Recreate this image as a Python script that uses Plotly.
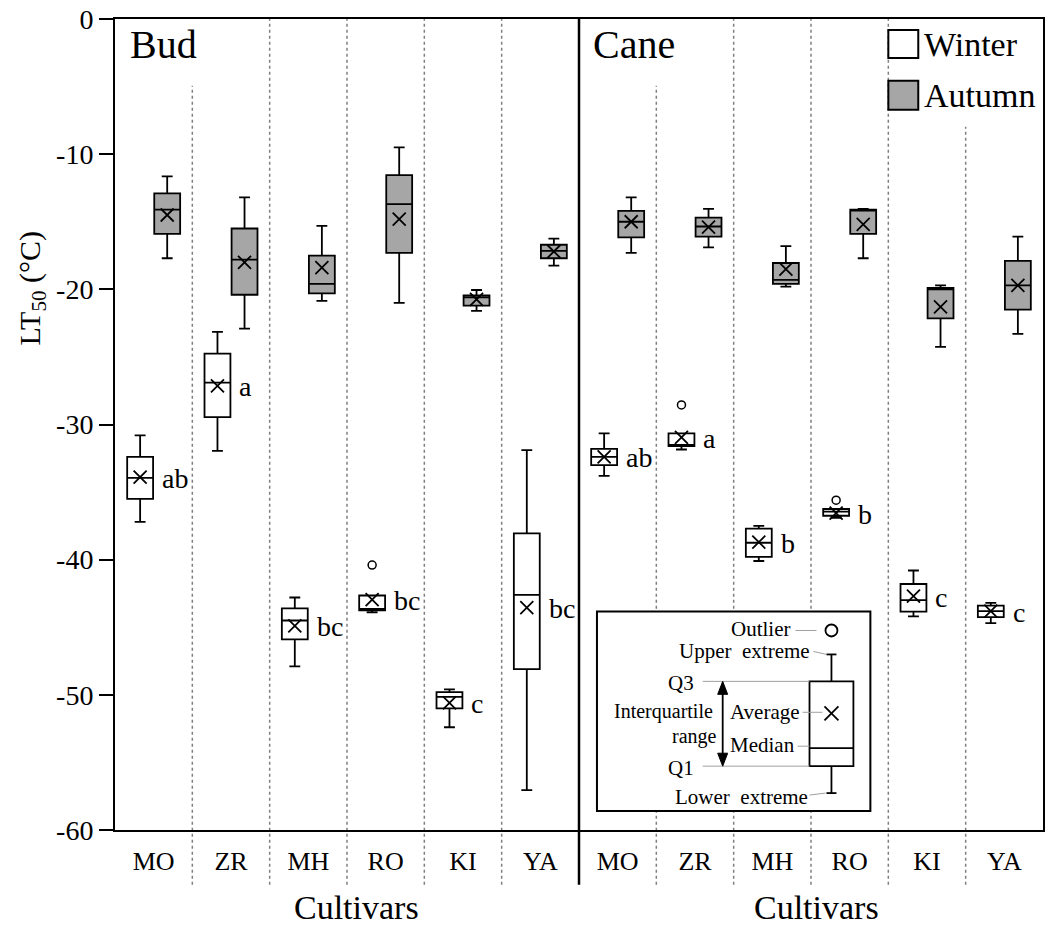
import numpy as np
import plotly.graph_objects as go

# ---------------- data ----------------
cultivars = ["MO", "ZR", "MH", "RO", "KI", "YA"]
tissues = ["Bud", "Cane"]
tick_labels = cultivars + cultivars   # Bud block then Cane block

winter_upper = [-30.8, -23.15, -42.8, -42.65, -49.6, -31.9, -30.65, -30.65, -37.5, -36.25, -40.8, -43.2]
winter_q3 = [-32.4, -24.75, -43.6, -42.65, -49.8, -38.05, -31.8, -30.65, -37.7, -36.25, -41.8, -43.4]
winter_median = [-33.95, -26.9, -44.5, -43.65, -50.15, -42.6, -32.4, -31.5, -38.75, -36.45, -43.0, -43.8]
winter_q1 = [-35.5, -29.45, -45.9, -43.75, -51.0, -48.1, -33.0, -31.6, -39.8, -36.75, -43.85, -44.25]
winter_lower = [-37.2, -31.95, -47.9, -43.9, -52.4, -57.05, -33.8, -31.85, -40.1, -36.9, -44.2, -44.7]
winter_mean = [-33.9, -27.15, -44.9, -42.95, -50.6, -43.55, -32.4, -30.95, -38.7, -36.55, -42.7, -43.8]
winter_letters = ["ab", "a", "bc", "bc", "c", "bc", "ab", "a", "b", "b", "c", "c"]
winter_outlier_idx = [3, 7, 9]
winter_outlier_val = [-40.4, -28.55, -35.6]

autumn_upper = [-11.65, -13.2, -15.3, -9.5, -20.05, -16.25, -13.2, -14.05, -16.8, -14.05, -19.7, -16.1]
autumn_q3 = [-12.9, -15.5, -17.5, -11.55, -20.45, -16.7, -14.2, -14.7, -18.05, -14.1, -19.9, -17.9]
autumn_median = [-14.1, -17.8, -19.6, -13.7, -20.6, -17.15, -15.0, -15.35, -19.3, -14.1, -20.0, -19.7]
autumn_q1 = [-15.9, -20.4, -20.3, -17.3, -21.2, -17.7, -16.15, -16.1, -19.6, -15.9, -22.15, -21.5]
autumn_lower = [-17.7, -22.9, -20.85, -21.0, -21.6, -18.25, -17.3, -16.9, -19.8, -17.7, -24.25, -23.3]
autumn_mean = [-14.5, -18.0, -18.4, -14.8, -20.75, -17.2, -15.0, -15.4, -18.5, -15.2, -21.3, -19.7]

y_ticks = [0, -10, -20, -30, -40, -50, -60]
y_ticktext = ["0", "-10", "-20", "-30", "-40", "-50", "-60"]

# ---------------- styling / layout helpers ----------------
FONT = "Liberation Serif"
W, H = 1049, 929
ML, MR, MT, MB = 115, 4, 17, 99
PW, PH = W - ML - MR, H - MT - MB
GRAY = "#a6a6a6"


def PX(px):
    return (px - ML) / PW


def PY(py):
    return (H - MB - py) / PH


n = len(tick_labels)
idx = np.arange(n)
off, bw = 0.175, 0.335
x_w = idx - off
x_a = idx + off

fig = go.Figure()

box_common = dict(width=bw, whiskerwidth=0.42, boxpoints=False, orientation="v",
                  line=dict(color="black", width=1.8), showlegend=False, hoverinfo="skip")

fig.add_trace(go.Box(x=x_w, q1=winter_q1, median=winter_median, q3=winter_q3,
                     lowerfence=winter_lower, upperfence=winter_upper,
                     fillcolor="white", name="Winter", **box_common))
fig.add_trace(go.Box(x=x_a, q1=autumn_q1, median=autumn_median, q3=autumn_q3,
                     lowerfence=autumn_lower, upperfence=autumn_upper,
                     fillcolor=GRAY, name="Autumn", **box_common))

mean_marker = dict(symbol="x-thin", size=13, color="black", line=dict(width=1.8, color="black"))
fig.add_trace(go.Scatter(x=x_w, y=winter_mean, mode="markers", marker=mean_marker,
                         showlegend=False, hoverinfo="skip"))
fig.add_trace(go.Scatter(x=x_a, y=autumn_mean, mode="markers", marker=mean_marker,
                         showlegend=False, hoverinfo="skip"))
fig.add_trace(go.Scatter(x=[x_w[i] for i in winter_outlier_idx], y=winter_outlier_val,
                         mode="markers",
                         marker=dict(symbol="circle-open", size=8, color="black",
                                     line=dict(width=1.5, color="black")),
                         showlegend=False, hoverinfo="skip"))

annotations = []
# significance letters next to winter boxes
for i in range(n):
    annotations.append(dict(x=idx[i] + 0.08, y=winter_mean[i], xref="x", yref="y",
                            text=winter_letters[i], showarrow=False, xanchor="left",
                            yanchor="middle", yshift=-1,
                            font=dict(family=FONT, size=28, color="black")))

shapes = []
# separators
bottom_ext = PY(885)
for k in range(n - 1):
    xs = k + 0.5
    if k == 5:
        shapes.append(dict(type="line", xref="x", yref="paper", x0=xs, x1=xs,
                           y0=bottom_ext, y1=1, line=dict(color="black", width=2.5)))
        continue
    top = 1
    if k in (0, 6):
        top = PY(84)
    elif k == 10:
        top = PY(125)
    shapes.append(dict(type="line", xref="x", yref="paper", x0=xs, x1=xs,
                       y0=bottom_ext, y1=top, layer="below",
                       line=dict(color="#7f7f7f", width=1.5, dash="dot")))

# panel titles
annotations.append(dict(x=PX(128), y=PY(43), xref="paper", yref="paper", text=tissues[0],
                        showarrow=False, xanchor="left", yanchor="middle",
                        font=dict(family=FONT, size=40, color="black")))
annotations.append(dict(x=PX(592), y=PY(43), xref="paper", yref="paper", text=tissues[1],
                        showarrow=False, xanchor="left", yanchor="middle",
                        font=dict(family=FONT, size=40, color="black")))

# x titles
for cx in (357, 818):
    annotations.append(dict(x=PX(cx), y=PY(908), xref="paper", yref="paper", text="Cultivars",
                            showarrow=False, xanchor="center", yanchor="middle",
                            font=dict(family=FONT, size=34, color="black")))

# y title
annotations.append(dict(x=PX(32), y=PY(287), xref="paper", yref="paper",
                        text="LT<sub>50</sub> (°C)", textangle=-90, showarrow=False,
                        xanchor="center", yanchor="middle",
                        font=dict(family=FONT, size=30, color="black")))

# legend (top right)
shapes.append(dict(type="rect", xref="paper", yref="paper", x0=PX(890), x1=PX(920),
                   y0=PY(56), y1=PY(28), fillcolor="white", line=dict(color="black", width=2)))
shapes.append(dict(type="rect", xref="paper", yref="paper", x0=PX(890), x1=PX(920),
                   y0=PY(108), y1=PY(79), fillcolor=GRAY, line=dict(color="black", width=2)))
annotations.append(dict(x=PX(924), y=PY(43), xref="paper", yref="paper", text="Winter",
                        showarrow=False, xanchor="left", yanchor="middle",
                        font=dict(family=FONT, size=34, color="black")))
annotations.append(dict(x=PX(924), y=PY(94), xref="paper", yref="paper", text="Autumn",
                        showarrow=False, xanchor="left", yanchor="middle",
                        font=dict(family=FONT, size=34, color="black")))

# ---------------- inset explanation box ----------------
shapes.append(dict(type="rect", xref="paper", yref="paper", x0=PX(598), x1=PX(872),
                   y0=PY(811), y1=PY(611), fillcolor="white", line=dict(color="black", width=2)))


def pline(x0, y0, x1, y1, color="black", width=1.8):
    shapes.append(dict(type="line", xref="paper", yref="paper", x0=PX(x0), y0=PY(y0),
                       x1=PX(x1), y1=PY(y1), line=dict(color=color, width=width)))


def ptri(ax, ay, bx1, by, bx2):
    path = "M {} {} L {} {} L {} {} Z".format(PX(ax), PY(ay), PX(bx1), PY(by), PX(bx2), PY(by))
    shapes.append(dict(type="path", xref="paper", yref="paper", path=path,
                       fillcolor="black", line=dict(color="black", width=1)))


# mini box
shapes.append(dict(type="rect", xref="paper", yref="paper", x0=PX(811), x1=PX(855),
                   y0=PY(766), y1=PY(681), fillcolor="white", line=dict(color="black", width=1.8)))
pline(811, 748, 855, 748)
pline(833, 654, 833, 681)
pline(828, 654, 838, 654)
pline(833, 766, 833, 793)
pline(828, 793, 838, 793)
pline(826, 706, 840, 720)
pline(826, 720, 840, 706)
shapes.append(dict(type="circle", xref="paper", yref="paper", x0=PX(827), x1=PX(839),
                   y0=PY(636), y1=PY(624), line=dict(color="black", width=1.8)))
# leader lines
LG = "#a0a0a0"
pline(797, 630, 818, 630, LG, 1)
pline(815, 651, 828, 654, LG, 1)
pline(704, 681, 811, 681, LG, 1)
pline(704, 766, 811, 766, LG, 1)
pline(804, 712, 824, 712, LG, 1)
pline(799, 746, 811, 746, LG, 1)
pline(811, 795, 827, 793, LG, 1)

# double arrow (interquartile range)
pline(724, 690, 724, 757, "black", 1.8)
ptri(724, 681, 719, 694, 729)
ptri(724, 766, 719, 753, 729)

inset_font = dict(family=FONT, size=21, color="black")


def itext(txt, x, y, anchor, size=21):
    annotations.append(dict(x=PX(x), y=PY(y), xref="paper", yref="paper", text=txt,
                            showarrow=False, xanchor=anchor, yanchor="middle",
                            font=dict(family=FONT, size=size, color="black")))


itext("Outlier", 793, 629, "right")
itext("Upper  extreme", 814, 651, "right")
itext("Q3", 682, 683, "center")
itext("Interquartile", 716, 711, "right", 20)
itext("range", 720, 736, "right", 20)
itext("Average", 729, 712, "left")
itext("Median", 729, 745, "left")
itext("Q1", 682, 768, "center")
itext("Lower  extreme", 811, 797, "right")

fig.update_layout(
    width=W, height=H,
    margin=dict(l=ML, r=MR, t=MT, b=MB, pad=0),
    paper_bgcolor="white", plot_bgcolor="white",
    boxmode="overlay",
    showlegend=False,
    font=dict(family=FONT, color="black"),
    shapes=shapes,
    annotations=annotations,
    xaxis=dict(range=[-0.5, n - 0.5], tickmode="array", tickvals=list(idx), ticktext=tick_labels,
               showgrid=False, zeroline=False, showline=True, mirror=True,
               linecolor="black", linewidth=2, ticks="", ticklabelstandoff=7,
               tickfont=dict(family=FONT, size=26, color="black")),
    yaxis=dict(range=[-60, 0], tickmode="array", tickvals=y_ticks, ticktext=y_ticktext,
               showgrid=False, zeroline=False, showline=True, mirror=True,
               linecolor="black", linewidth=2, ticks="outside", ticklen=14, tickwidth=2,
               tickcolor="black",
               tickfont=dict(family=FONT, size=28, color="black")),
)

fig.write_html("out.html")
